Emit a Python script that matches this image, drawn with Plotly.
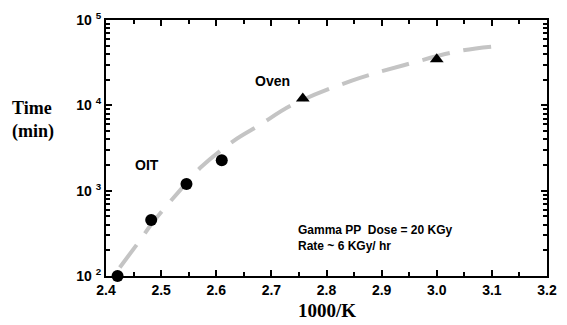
import plotly.graph_objects as go

# OIT measurements (circles) and oven ageing (triangles)
oit_x = [2.421, 2.482, 2.546, 2.61]
oit_t = [100, 452, 1200, 2270]
oven_x = [2.757, 3.0]
oven_t = [12000, 34700]

# hand-drawn trend line through both data sets
fit_x = [2.425, 2.464, 2.484, 2.535, 2.573, 2.633, 2.679, 2.736, 2.846, 2.94, 3.044, 3.12]
fit_t = [126, 275, 417, 1023, 1905, 3890, 5890, 10000, 19500, 29500, 43650, 50100]

x_ticks = [2.4, 2.5, 2.6, 2.7, 2.8, 2.9, 3.0, 3.1, 3.2]
y_ticks = [1e2, 1e3, 1e4, 1e5]
y_tick_text = ["10 <sup>2</sup>", "10 <sup>3</sup>", "10 <sup>4</sup>", "10 <sup>5</sup>"]
y_minor = [m * d for d in (1e2, 1e3, 1e4) for m in range(2, 10)]

sans = "Liberation Sans, Arial, sans-serif"
serif = "Liberation Serif, Times New Roman, serif"

fig = go.Figure()
fig.add_trace(go.Scatter(
    x=fit_x, y=fit_t, mode="lines", line_shape="spline",
    line=dict(color="#c4c4c4", width=4, dash="28px,14px"),
    hoverinfo="skip"))
fig.add_trace(go.Scatter(
    x=oit_x, y=oit_t, mode="markers",
    marker=dict(symbol="circle", size=12, color="black"), cliponaxis=False))
fig.add_trace(go.Scatter(
    x=oven_x, y=oven_t, mode="markers",
    marker=dict(symbol="triangle-up", size=12, color="black"), cliponaxis=False))

axis_common = dict(
    showline=True, linecolor="black", linewidth=2, mirror="ticks",
    ticks="inside", ticklen=6, tickwidth=1.5, tickcolor="black",
    showgrid=False, zeroline=False,
    tickfont=dict(family=sans, size=14, color="black", weight="bold"),
)

fig.update_xaxes(
    range=[2.4, 3.2], tickvals=x_ticks, tickformat=".1f",
    minor=dict(dtick=0.05, ticks="inside", ticklen=4, tickcolor="black", showgrid=False),
    **axis_common)
fig.update_yaxes(
    type="log", range=[2, 5], tickvals=y_ticks, ticktext=y_tick_text,
    minor=dict(tickvals=y_minor, ticks="inside", ticklen=4, tickcolor="black", showgrid=False),
    **axis_common)

lab = dict(family=sans, size=14, color="black", weight="bold")
fig.add_annotation(x=2.475, y=3.30, text="OIT", showarrow=False, font=lab)
fig.add_annotation(x=2.702, y=4.29, text="Oven", showarrow=False, font=lab)
fig.add_annotation(x=2.745, y=2.45, xanchor="left",
                   text="Gamma PP  Dose = 20 KGy<br>Rate ~ 6 KGy/ hr",
                   showarrow=False, align="left",
                   font=dict(family=sans, size=12, color="black", weight="bold"))

fig.add_annotation(xref="paper", yref="paper", x=-0.218, y=0.61, xanchor="left",
                   text="Time<br>(min)", showarrow=False, align="left",
                   font=dict(family=serif, size=18, color="black", weight="bold"))
fig.add_annotation(xref="paper", yref="paper", x=0.5, y=-0.085, yanchor="top",
                   text="1000/K", showarrow=False,
                   font=dict(family=serif, size=19, color="black", weight="bold"))

fig.update_layout(
    width=567, height=325,
    margin=dict(l=106, r=10, t=16, b=49),
    paper_bgcolor="white", plot_bgcolor="white",
    showlegend=False,
)

fig.write_html("out.html")
